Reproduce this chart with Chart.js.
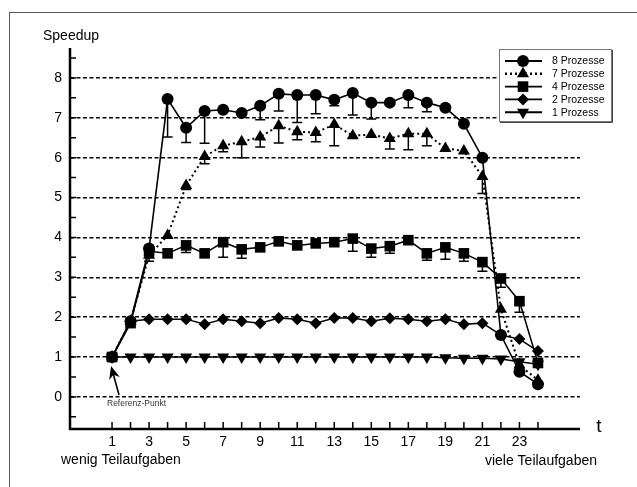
<!DOCTYPE html>
<html><head><meta charset="utf-8">
<script src="https://cdn.jsdelivr.net/npm/chart.js@4/dist/chart.umd.min.js"></script>
<style>
html,body{margin:0;padding:0;background:#fff;overflow:hidden;width:637px;height:487px;}
#wrap{position:relative;width:637px;height:487px;}
#frame{position:absolute;left:9px;top:12px;width:700px;height:600px;border-left:1px solid #555;border-top:1px solid #555;}
canvas{position:absolute;left:0;top:0;}
</style></head><body>
<div id="wrap"><div id="frame"></div><canvas id="c" width="637" height="487"></canvas></div>
<script>
// ---- data ----
const tValues = [1,2,3,4,5,6,7,8,9,10,11,12,13,14,15,16,17,18,19,20,21,22,23,24];
const xTickLabels = ['1','','3','','5','','7','','9','','11','','13','','15','','17','','19','','21','','23',''];
const yTickLabels = ['0','1','2','3','4','5','6','7','8'];
const seriesNames = ['8 Prozesse','7 Prozesse','4 Prozesse','2 Prozesse','1 Prozess'];
const speedup8 = [1,1.9,3.72,7.47,6.75,7.17,7.2,7.12,7.3,7.6,7.57,7.57,7.45,7.62,7.38,7.38,7.57,7.38,7.25,6.85,6.0,1.55,0.63,0.32];
const speedup7 = [1,1.9,3.55,4.05,5.3,6.03,6.3,6.4,6.52,6.8,6.65,6.63,6.83,6.55,6.58,6.48,6.6,6.6,6.23,6.17,5.53,2.2,0.8,0.42];
const speedup4 = [1,1.85,3.65,3.6,3.8,3.6,3.88,3.7,3.75,3.9,3.8,3.85,3.88,3.97,3.72,3.78,3.93,3.6,3.75,3.6,3.38,2.97,2.4,0.85];
const speedup2 = [1,1.9,1.95,1.95,1.95,1.82,1.95,1.9,1.85,1.98,1.95,1.85,1.98,1.98,1.9,1.97,1.95,1.9,1.95,1.82,1.85,1.55,1.45,1.15];
const speedup1 = [1,1,1,1,1,1,1,1,1,1,1,1,1,1,1,1,1,1,0.98,0.97,0.97,0.95,0.88,0.82];
// lower ends of error bars (null = none)
const low8 = [null,null,null,6.52,6.38,6.36,null,null,6.95,7.17,6.88,7.1,7.3,7.07,6.97,null,7.25,7.15,null,null,null,null,null,null];
const low7 = [null,null,null,null,5.2,5.85,6.15,6.0,6.27,6.37,6.45,6.4,6.3,null,null,6.22,6.2,6.3,null,null,5.1,null,null,null];
const low4 = [null,null,3.4,null,3.62,null,3.5,3.48,null,null,null,null,null,3.65,3.5,3.6,null,3.43,3.45,3.4,3.15,2.75,2.12,null];
const low2 = [];
const low1 = [];

const FONT = '"Liberation Sans", Arial, sans-serif';
const pts = arr => arr.map((v,i)=>({x:tValues[i], y:v}));

const styles = [
  {pointStyle:'circle', rotation:0, radius:6, width:1.6, dash:[]},
  {pointStyle:'triangle', rotation:0, radius:7, width:2, dash:[2,3]},
  {pointStyle:'rect', rotation:0, radius:7.5, width:1.5, dash:[]},
  {pointStyle:'rectRot', rotation:0, radius:6, width:1.5, dash:[]},
  {pointStyle:'triangle', rotation:180, radius:7, width:1.5, dash:[]}
];
const allData = [speedup8, speedup7, speedup4, speedup2, speedup1];
const allLow = [low8, low7, low4, low2, low1];

const datasets = allData.map((d,i)=>({
  label: seriesNames[i],
  data: pts(d),
  borderColor:'#000', backgroundColor:'#000',
  borderWidth: styles[i].width,
  borderDash: styles[i].dash,
  pointStyle: styles[i].pointStyle,
  pointRotation: styles[i].rotation,
  pointRadius: styles[i].radius,
  pointBorderWidth: 0,
  pointBackgroundColor:'#000',
  tension:0, fill:false
}));

function marker(ctx, style, rot, r, x, y){
  ctx.save();
  ctx.translate(x,y); ctx.rotate(rot*Math.PI/180);
  ctx.fillStyle='#000';
  ctx.beginPath();
  if(style==='circle'){ ctx.arc(0,0,r,0,Math.PI*2); }
  else if(style==='triangle'){
    for(let k=0;k<3;k++){ const a=-Math.PI/2+k*2*Math.PI/3; const px=Math.cos(a)*r, py=Math.sin(a)*r; k?ctx.lineTo(px,py):ctx.moveTo(px,py);} ctx.closePath();
  } else if(style==='rect'){ const s=r*Math.SQRT1_2; ctx.rect(-s,-s,2*s,2*s); }
  else if(style==='rectRot'){ ctx.moveTo(0,-r); ctx.lineTo(r,0); ctx.lineTo(0,r); ctx.lineTo(-r,0); ctx.closePath(); }
  ctx.fill();
  ctx.restore();
}

const decor = {
  id:'decor',
  beforeDatasetsDraw(chart){
    const {ctx, scales:{x,y}} = chart;
    ctx.save();
    ctx.strokeStyle='#000'; ctx.lineWidth=1.5; ctx.setLineDash([]);
    allLow.forEach((low,si)=>{
      low.forEach((lv,i)=>{
        if(lv==null) return;
        const px=x.getPixelForValue(tValues[i]);
        const p0=y.getPixelForValue(allData[si][i]);
        const p1=y.getPixelForValue(lv);
        ctx.beginPath(); ctx.moveTo(px,p0); ctx.lineTo(px,p1);
        ctx.moveTo(px-5,p1); ctx.lineTo(px+5,p1); ctx.stroke();
      });
    });
    ctx.restore();
  },
  afterDraw(chart){
    const {ctx, chartArea:a, scales:{x,y}} = chart;
    ctx.save();
    // axes
    ctx.strokeStyle='#000'; ctx.lineWidth=2.5; ctx.setLineDash([]);
    ctx.beginPath(); ctx.moveTo(a.left,a.top); ctx.lineTo(a.left,a.bottom+1); ctx.lineTo(a.right,a.bottom+1); ctx.stroke();
    ctx.lineWidth=1.5;
    ctx.beginPath();
    x.ticks.forEach(t=>{ const px=x.getPixelForValue(t.value); ctx.moveTo(px,a.bottom); ctx.lineTo(px,a.bottom-6); });
    y.ticks.forEach(t=>{ const py=y.getPixelForValue(t.value); ctx.moveTo(a.left,py); ctx.lineTo(a.left+6,py); });
    ctx.stroke();
    // texts
    ctx.fillStyle='#000';
    ctx.font='14px '+FONT; ctx.textBaseline='middle';
    ctx.textAlign='center'; ctx.fillText('Speedup', 71, 36);
    ctx.textAlign='left'; ctx.fillText('wenig Teilaufgaben', 61, 460);
    ctx.textAlign='right'; ctx.fillText('viele Teilaufgaben', 597, 461);
    ctx.font='19px '+FONT; ctx.textAlign='center'; ctx.fillText('t', 599, 427);
    // reference point arrow
    const rx=x.getPixelForValue(tValues[0]), ry=y.getPixelForValue(speedup4[0]);
    const tipX=rx-1, tipY=ry+9, tailX=rx+7, tailY=ry+38;
    const ang=Math.atan2(tipY-tailY, tipX-tailX);
    ctx.strokeStyle='#000'; ctx.lineWidth=1.6;
    ctx.beginPath(); ctx.moveTo(tailX,tailY); ctx.lineTo(tipX-8*Math.cos(ang), tipY-8*Math.sin(ang)); ctx.stroke();
    ctx.fillStyle='#000';
    ctx.beginPath(); ctx.moveTo(tipX,tipY);
    ctx.lineTo(tipX-13*Math.cos(ang)+5.5*Math.sin(ang), tipY-13*Math.sin(ang)-5.5*Math.cos(ang));
    ctx.lineTo(tipX-9*Math.cos(ang), tipY-9*Math.sin(ang));
    ctx.lineTo(tipX-13*Math.cos(ang)-5.5*Math.sin(ang), tipY-13*Math.sin(ang)+5.5*Math.cos(ang));
    ctx.closePath(); ctx.fill();
    ctx.fillStyle='#333'; ctx.font='8.5px '+FONT; ctx.textAlign='left';
    ctx.fillText('Referenz-Punkt', 107, 404);
    // legend
    const L={x:499,y:49,w:112,h:72};
    ctx.fillStyle='#fff'; ctx.fillRect(L.x,L.y,L.w,L.h);
    ctx.strokeStyle='#777'; ctx.lineWidth=1; ctx.strokeRect(L.x+0.5,L.y+0.5,L.w,L.h);
    ctx.strokeStyle='#444'; ctx.beginPath(); ctx.moveTo(L.x+L.w+1.5,L.y+1); ctx.lineTo(L.x+L.w+1.5,L.y+L.h+1.5); ctx.lineTo(L.x+1,L.y+L.h+1.5); ctx.stroke();
    ctx.font='10.5px '+FONT; ctx.textAlign='left'; ctx.textBaseline='middle';
    seriesNames.forEach((n,i)=>{
      const ly=61+i*12.8;
      ctx.strokeStyle='#000'; ctx.lineWidth=styles[i].width+0.4; ctx.setLineDash(styles[i].dash);
      ctx.beginPath(); ctx.moveTo(505,ly); ctx.lineTo(542,ly); ctx.stroke();
      ctx.setLineDash([]);
      marker(ctx, styles[i].pointStyle, styles[i].rotation, styles[i].radius, 523, ly);
      ctx.fillStyle='#000'; ctx.fillText(n, 552, ly+0.5);
    });
    ctx.restore();
  }
};

new Chart(document.getElementById('c'), {
  type:'line',
  data:{datasets},
  options:{
    responsive:false, animation:false,
    layout:{padding:{left:0,right:57,top:48,bottom:0}},
    plugins:{legend:{display:false}, tooltip:{enabled:false}},
    scales:{
      x:{type:'linear', min:-1.27, max:26.27,
        afterBuildTicks:s=>{ s.ticks = tValues.map(v=>({value:v})); },
        afterFit:s=>{ s.height=59; },
        grid:{display:false, drawTicks:false},
        border:{display:false},
        ticks:{autoSkip:false, maxRotation:0, padding:6, color:'#000', font:{family:FONT,size:14},
          callback:(v,i)=>xTickLabels[i] ?? ''}
      },
      y:{type:'linear', min:-0.78, max:8.75,
        afterBuildTicks:s=>{ const t=[]; for(let k=-1;k<=17;k++) t.push({value:k/2}); s.ticks=t; },
        afterFit:s=>{ s.width=70; },
        grid:{drawTicks:false, lineWidth:1.5,
          color:c=>{ const v=c.tick&&c.tick.value; return (v!=null && v>=0 && Number.isInteger(v)) ? '#000' : 'rgba(0,0,0,0)'; }},
        border:{display:false, dash:[4,2.5]},
        ticks:{autoSkip:false, padding:8, color:'#000', font:{family:FONT,size:14},
          callback:v=>{ return (Number.isInteger(v) && v>=0) ? yTickLabels[v] : ''; }}
      }
    }
  },
  plugins:[decor]
});
</script>
</body></html>
